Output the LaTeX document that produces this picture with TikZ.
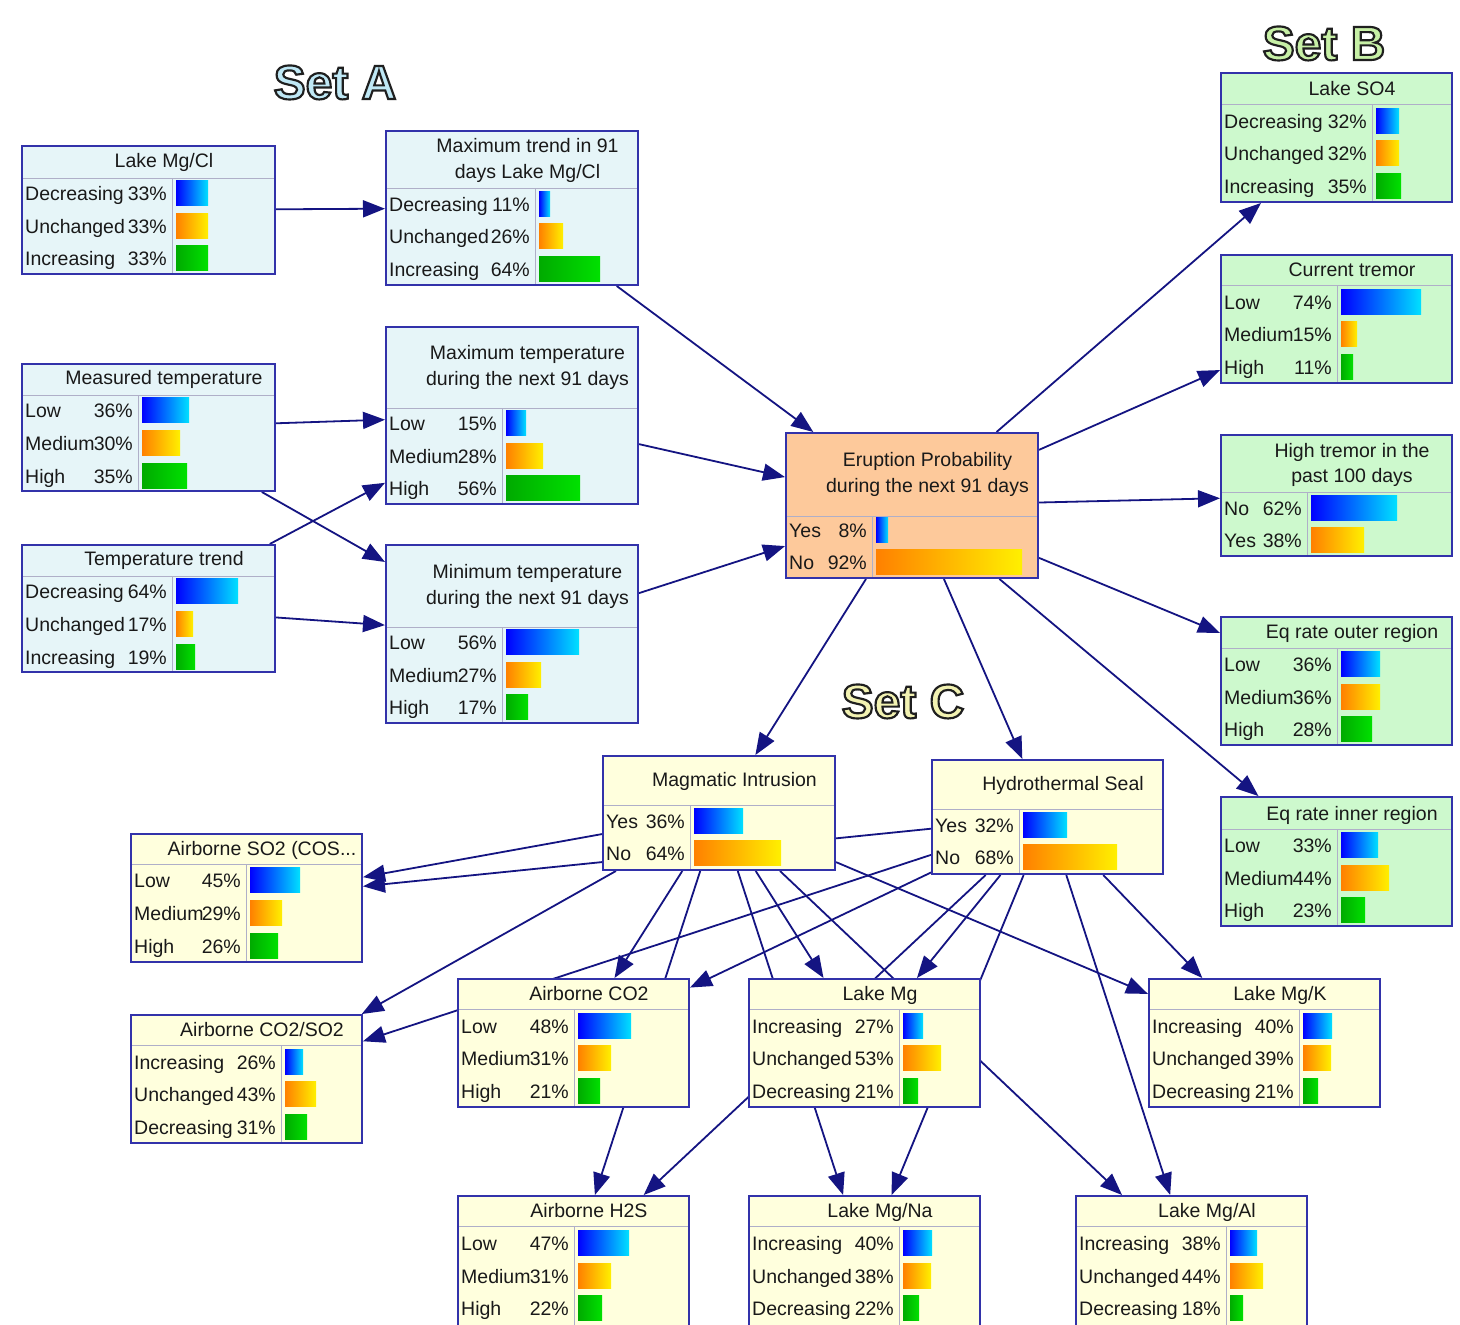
\documentclass[tikz,border=0pt]{standalone}
\usepackage{fontspec}
\setmainfont{Liberation Sans}
% heavy face for the group headings; the fake-bold stroke draws the outline
\newfontfamily\setfont{Liberation Sans Bold}[FakeBold=4.5]
\usetikzlibrary{arrows.meta,backgrounds,calc}

\definecolor{fillA}{RGB}{230,245,248}
\definecolor{fillB}{RGB}{205,249,205}
\definecolor{fillC}{RGB}{255,255,221}
\definecolor{fillE}{RGB}{253,201,155}
\definecolor{frameblue}{RGB}{50,50,170}
\definecolor{edgenavy}{RGB}{20,20,130}
\definecolor{sepgray}{RGB}{175,175,200}

\tikzset{
  bnframe/.style={draw=frameblue, line width=2pt, rectangle, inner sep=0pt},
  sepline/.style={draw=sepgray, line width=1pt},
  lbl/.style={inner sep=0pt, font=\fontsize{19.5}{24}\selectfont, text=black!90},
  settl/.style={inner sep=0pt, font=\fontsize{48}{50}\setfont},
  barblue/.style={left color={rgb,255:red,0;green,0;blue,255}, right color={rgb,255:red,0;green,225;blue,255}},
  barorange/.style={left color={rgb,255:red,255;green,128;blue,0}, right color={rgb,255:red,255;green,240;blue,0}},
  bargreen/.style={left color={rgb,255:red,0;green,170;blue,0}, right color={rgb,255:red,0;green,225;blue,0}},
  edge/.style={draw=edgenavy, line width=1.8pt, -{Triangle[length=22pt,width=17pt]}},
}

% frame of a belief node: #1 name, #2 left, #3 top, #4 right, #5 bottom,
% #6 fill, #7 header rule y, #8 column rule x
\newcommand\bnbox[8]{%
  \pgfmathsetmacro\bnw{#4-#2}%
  \pgfmathsetmacro\bnh{#5-#3}%
  \node[bnframe, fill=#6, minimum width=\bnw pt, minimum height=\bnh pt] (#1) at ({(#2+#4)/2},{(#3+#5)/2}) {};
  \draw[sepline] ({#2+1},#7) -- ({#4-1},#7);
  \draw[sepline] (#8,#7) -- (#8,{#5-1});
}
% title line: #1 name, #2 centre x, #3 baseline y, #4 text
\newcommand\bntitle[4]{\node[lbl, anchor=base] (#1) at (#2,#3) {#4};}
% state row: #1 name, #2 box left, #3 column rule, #4 row y, #5 state, #6 percent, #7 bar length, #8 bar style
\newcommand\bnrow[8]{%
  \node[lbl, anchor=base west] (#1-l) at ({#2+3},{#4+7}) {#5};
  \node[lbl, anchor=base east] (#1-p) at ({#3-5},{#4+7}) {#6};
  \shade[#8] ({#3+4},{#4-12.5}) rectangle ++(#7,25);
}
% outlined group heading: #1 name, #2 x, #3 baseline y, #4 fill rgb (0..1), #5 text
% (fill colour first, dark stroke colour second)
\newcommand\settitle[5]{%
  \node[settl, anchor=base] (#1) at (#2,#3)
    {\special{pdf:bcolor [#4] [0.12 0.12 0.12]}#5\special{pdf:ecolor}};
}

\begin{document}
\begin{tikzpicture}[x=1pt, y=-1pt]
\useasboundingbox (0,0) rectangle (1460,1325);

% group headings
\settitle{setA}{335}{99}{0.75 0.91 0.96}{Set A}
\settitle{setB}{1324}{60}{0.78 0.94 0.65}{Set B}
\settitle{setC}{903}{718}{0.95 0.95 0.70}{Set C}

% ---- Set A ----
\bnbox{lmgcl}{22}{146}{275}{274}{fillA}{178}{172}
\bntitle{lmgcl-t}{164}{167}{Lake Mg/Cl}
\bnrow{lmgcl-1}{22}{172}{193}{Decreasing}{33\%}{32}{barblue}
\bnrow{lmgcl-2}{22}{172}{226}{Unchanged}{33\%}{32}{barorange}
\bnrow{lmgcl-3}{22}{172}{258}{Increasing}{33\%}{32}{bargreen}

\bnbox{maxtr}{386}{131}{638}{285}{fillA}{188}{535}
\bntitle{maxtr-t1}{527.5}{152}{Maximum trend in 91}
\bntitle{maxtr-t2}{527.5}{178}{days Lake Mg/Cl}
\bnrow{maxtr-1}{386}{535}{204}{Decreasing}{11\%}{11}{barblue}
\bnrow{maxtr-2}{386}{535}{236}{Unchanged}{26\%}{24}{barorange}
\bnrow{maxtr-3}{386}{535}{269}{Increasing}{64\%}{61}{bargreen}

\bnbox{meast}{22}{364}{275}{491}{fillA}{395}{138}
\bntitle{meast-t}{164}{384}{Measured temperature}
\bnrow{meast-1}{22}{138}{410}{Low}{36\%}{47}{barblue}
\bnrow{meast-2}{22}{138}{443}{Medium}{30\%}{38}{barorange}
\bnrow{meast-3}{22}{138}{476}{High}{35\%}{45}{bargreen}

\bnbox{maxtp}{386}{327}{638}{504}{fillA}{408}{502}
\bntitle{maxtp-t1}{527.5}{359}{Maximum temperature}
\bntitle{maxtp-t2}{527.5}{385}{during the next 91 days}
\bnrow{maxtp-1}{386}{502}{423}{Low}{15\%}{20}{barblue}
\bnrow{maxtp-2}{386}{502}{456}{Medium}{28\%}{37}{barorange}
\bnrow{maxtp-3}{386}{502}{488}{High}{56\%}{74}{bargreen}

\bnbox{ttrend}{22}{545}{275}{672}{fillA}{576}{172}
\bntitle{ttrend-t}{164}{565}{Temperature trend}
\bnrow{ttrend-1}{22}{172}{591}{Decreasing}{64\%}{62}{barblue}
\bnrow{ttrend-2}{22}{172}{624}{Unchanged}{17\%}{17}{barorange}
\bnrow{ttrend-3}{22}{172}{657}{Increasing}{19\%}{19}{bargreen}

\bnbox{mintp}{386}{545}{638}{723}{fillA}{627}{502}
\bntitle{mintp-t1}{527.5}{578}{Minimum temperature}
\bntitle{mintp-t2}{527.5}{604}{during the next 91 days}
\bnrow{mintp-1}{386}{502}{642}{Low}{56\%}{73}{barblue}
\bnrow{mintp-2}{386}{502}{675}{Medium}{27\%}{35}{barorange}
\bnrow{mintp-3}{386}{502}{707}{High}{17\%}{22}{bargreen}

% ---- target node ----
\bnbox{erupt}{786}{433}{1038}{578}{fillE}{516}{872}
\bntitle{erupt-t1}{927.5}{466}{Eruption Probability}
\bntitle{erupt-t2}{927.5}{492}{during the next 91 days}
\bnrow{erupt-1}{786}{872}{530}{Yes}{8\%}{12}{barblue}
\bnrow{erupt-2}{786}{872}{562}{No}{92\%}{146}{barorange}

% ---- Set B ----
\bnbox{so4}{1221}{73}{1452}{202}{fillB}{104}{1372}
\bntitle{so4-t}{1352}{95}{Lake SO4}
\bnrow{so4-1}{1221}{1372}{121}{Decreasing}{32\%}{23}{barblue}
\bnrow{so4-2}{1221}{1372}{153}{Unchanged}{32\%}{23}{barorange}
\bnrow{so4-3}{1221}{1372}{186}{Increasing}{35\%}{25}{bargreen}

\bnbox{ctrem}{1221}{255}{1452}{383}{fillB}{285}{1337}
\bntitle{ctrem-t}{1352}{276}{Current tremor}
\bnrow{ctrem-1}{1221}{1337}{302}{Low}{74\%}{80}{barblue}
\bnrow{ctrem-2}{1221}{1337}{334}{Medium}{15\%}{16}{barorange}
\bnrow{ctrem-3}{1221}{1337}{367}{High}{11\%}{12}{bargreen}

\bnbox{htrem}{1221}{435}{1452}{556}{fillB}{492}{1307}
\bntitle{htrem-t1}{1352}{457}{High tremor in the}
\bntitle{htrem-t2}{1352}{482}{past 100 days}
\bnrow{htrem-1}{1221}{1307}{508}{No}{62\%}{86}{barblue}
\bnrow{htrem-2}{1221}{1307}{540}{Yes}{38\%}{53}{barorange}

\bnbox{eqout}{1221}{617}{1452}{745}{fillB}{648}{1337}
\bntitle{eqout-t}{1352}{638}{Eq rate outer region}
\bnrow{eqout-1}{1221}{1337}{664}{Low}{36\%}{39}{barblue}
\bnrow{eqout-2}{1221}{1337}{697}{Medium}{36\%}{39}{barorange}
\bnrow{eqout-3}{1221}{1337}{729}{High}{28\%}{31}{bargreen}

\bnbox{eqin}{1221}{797}{1452}{926}{fillB}{829}{1337}
\bntitle{eqin-t}{1352}{820}{Eq rate inner region}
\bnrow{eqin-1}{1221}{1337}{845}{Low}{33\%}{37}{barblue}
\bnrow{eqin-2}{1221}{1337}{878}{Medium}{44\%}{48}{barorange}
\bnrow{eqin-3}{1221}{1337}{910}{High}{23\%}{24}{bargreen}

% ---- Set C ----
\bnbox{magint}{603}{756}{835}{870}{fillC}{805}{690}
\bntitle{magint-t}{734.5}{786}{Magmatic Intrusion}
\bnrow{magint-1}{603}{690}{821}{Yes}{36\%}{49}{barblue}
\bnrow{magint-2}{603}{690}{853}{No}{64\%}{87}{barorange}

\bnbox{hseal}{932}{760}{1163}{874}{fillC}{809}{1019}
\bntitle{hseal-t}{1063}{790}{Hydrothermal Seal}
\bnrow{hseal-1}{932}{1019}{825}{Yes}{32\%}{44}{barblue}
\bnrow{hseal-2}{932}{1019}{857}{No}{68\%}{94}{barorange}

\bnbox{so2}{131}{834}{362}{962}{fillC}{864}{246}
\bntitle{so2-t}{262}{855}{Airborne SO2 (COS...}
\bnrow{so2-1}{131}{246}{880}{Low}{45\%}{50}{barblue}
\bnrow{so2-2}{131}{246}{913}{Medium}{29\%}{32}{barorange}
\bnrow{so2-3}{131}{246}{946}{High}{26\%}{28}{bargreen}

\bnbox{co2so2}{131}{1015}{362}{1143}{fillC}{1045}{281}
\bntitle{co2so2-t}{262}{1036}{Airborne CO2/SO2}
\bnrow{co2so2-1}{131}{281}{1062}{Increasing}{26\%}{18}{barblue}
\bnrow{co2so2-2}{131}{281}{1094}{Unchanged}{43\%}{31}{barorange}
\bnrow{co2so2-3}{131}{281}{1127}{Decreasing}{31\%}{22}{bargreen}

\bnbox{co2}{458}{979}{689}{1107}{fillC}{1009}{574}
\bntitle{co2-t}{589}{1000}{Airborne CO2}
\bnrow{co2-1}{458}{574}{1026}{Low}{48\%}{53}{barblue}
\bnrow{co2-2}{458}{574}{1058}{Medium}{31\%}{33}{barorange}
\bnrow{co2-3}{458}{574}{1091}{High}{21\%}{22}{bargreen}

\bnbox{lmg}{749}{979}{980}{1107}{fillC}{1009}{899}
\bntitle{lmg-t}{880}{1000}{Lake Mg}
\bnrow{lmg-1}{749}{899}{1026}{Increasing}{27\%}{20}{barblue}
\bnrow{lmg-2}{749}{899}{1058}{Unchanged}{53\%}{38}{barorange}
\bnrow{lmg-3}{749}{899}{1091}{Decreasing}{21\%}{15}{bargreen}

\bnbox{lmgk}{1149}{979}{1380}{1107}{fillC}{1009}{1299}
\bntitle{lmgk-t}{1280}{1000}{Lake Mg/K}
\bnrow{lmgk-1}{1149}{1299}{1026}{Increasing}{40\%}{29}{barblue}
\bnrow{lmgk-2}{1149}{1299}{1058}{Unchanged}{39\%}{28}{barorange}
\bnrow{lmgk-3}{1149}{1299}{1091}{Decreasing}{21\%}{15}{bargreen}

\bnbox{h2s}{458}{1196}{689}{1326}{fillC}{1226}{574}
\bntitle{h2s-t}{589}{1217}{Airborne H2S}
\bnrow{h2s-1}{458}{574}{1243}{Low}{47\%}{51}{barblue}
\bnrow{h2s-2}{458}{574}{1276}{Medium}{31\%}{33}{barorange}
\bnrow{h2s-3}{458}{574}{1308}{High}{22\%}{24}{bargreen}

\bnbox{lmgna}{749}{1196}{980}{1326}{fillC}{1226}{899}
\bntitle{lmgna-t}{880}{1217}{Lake Mg/Na}
\bnrow{lmgna-1}{749}{899}{1243}{Increasing}{40\%}{29}{barblue}
\bnrow{lmgna-2}{749}{899}{1276}{Unchanged}{38\%}{28}{barorange}
\bnrow{lmgna-3}{749}{899}{1308}{Decreasing}{22\%}{16}{bargreen}

\bnbox{lmgal}{1076}{1196}{1307}{1326}{fillC}{1226}{1226}
\bntitle{lmgal-t}{1207}{1217}{Lake Mg/Al}
\bnrow{lmgal-1}{1076}{1226}{1243}{Increasing}{38\%}{27}{barblue}
\bnrow{lmgal-2}{1076}{1226}{1276}{Unchanged}{44\%}{33}{barorange}
\bnrow{lmgal-3}{1076}{1226}{1308}{Decreasing}{18\%}{13}{bargreen}

% ---- links, drawn beneath the node frames ----
\begin{scope}[on background layer]
  \fill[white] (0,0) rectangle (1460,1325);
  \draw[edge] (lmgcl) -- (maxtr);
  \draw[edge] (maxtr) -- (erupt);
  \draw[edge] (meast) -- (maxtp);
  \draw[edge] (meast) -- (mintp);
  \draw[edge] (ttrend) -- (maxtp);
  \draw[edge] (ttrend) -- (mintp);
  \draw[edge] (maxtp) -- (erupt);
  \draw[edge] (mintp) -- (erupt);
  \draw[edge] (erupt) -- (so4);
  \draw[edge] (erupt) -- (ctrem);
  \draw[edge] (erupt) -- (htrem);
  \draw[edge] (erupt) -- (eqout);
  \draw[edge] (erupt) -- (eqin);
  \draw[edge] (erupt) -- (magint);
  \draw[edge] (erupt) -- (hseal);
  \foreach \t in {so2,co2so2,co2,h2s,lmg,lmgna,lmgal,lmgk}{
    \draw[edge] (magint) -- (\t);
    \draw[edge] (hseal) -- (\t);
  }
\end{scope}
\end{tikzpicture}
\end{document}
